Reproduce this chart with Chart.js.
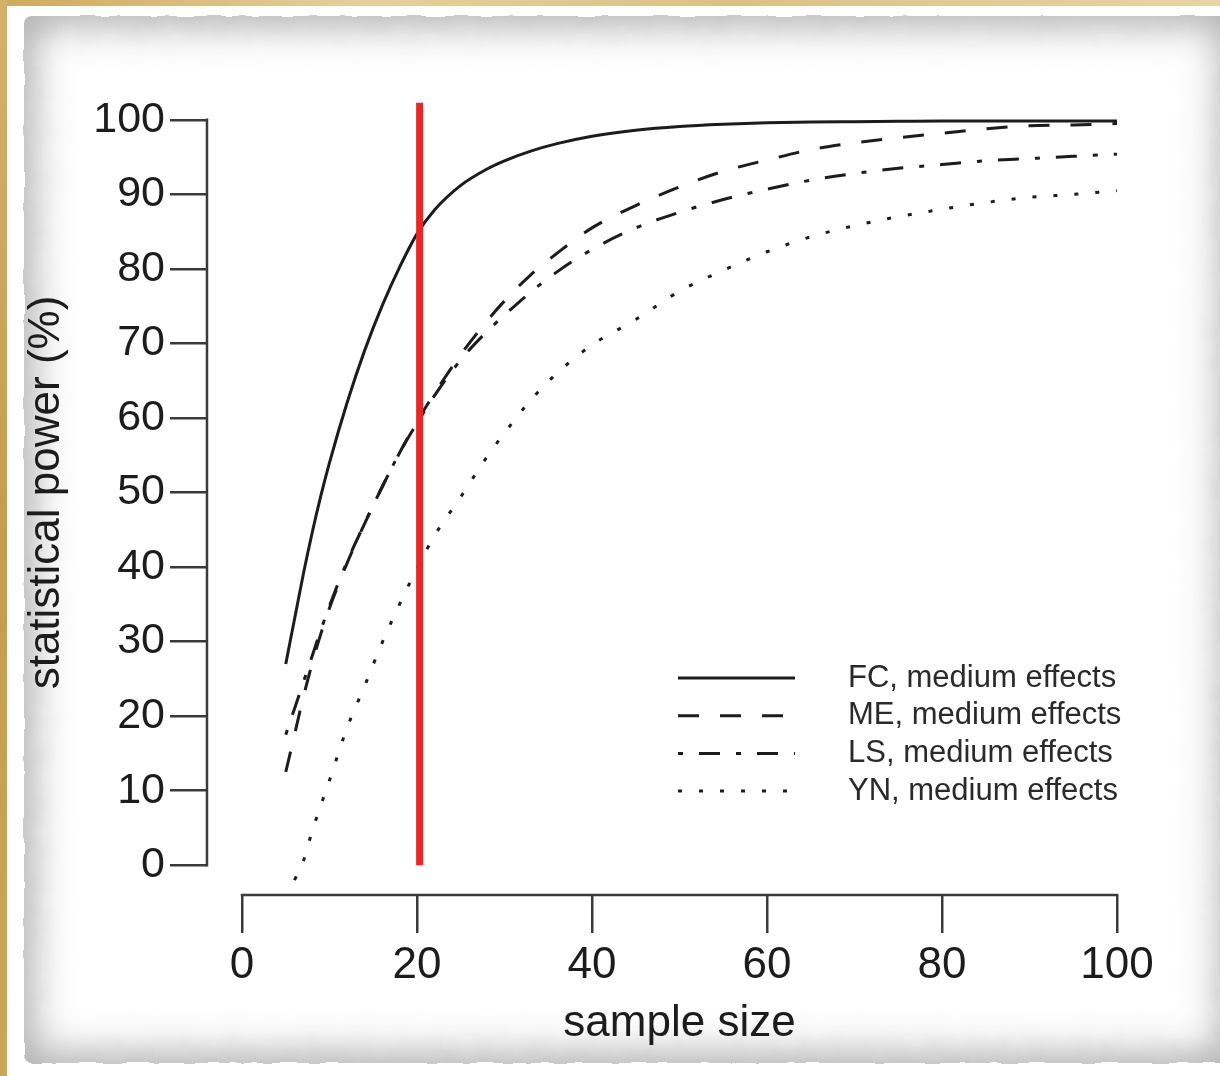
<!DOCTYPE html>
<html>
<head>
<meta charset="utf-8">
<title>Statistical power by sample size</title>
<script src="https://cdn.jsdelivr.net/npm/chart.js@4.4.1/dist/chart.umd.min.js"></script>
<style>
    html, body { margin: 0; padding: 0; }
    body { width: 1220px; height: 1076px; position: relative; overflow: hidden; background: #fff; }
    .gold-top { position: absolute; left: 0; top: 0; width: 1220px; height: 6px;
        background: linear-gradient(90deg, #cfa95e, #e6d09c 30%, #dcc185 60%, #e8d4a4); }
    .gold-left { position: absolute; left: 0; top: 0; width: 7px; height: 1076px;
        background: linear-gradient(180deg, #d4b06a, #c49d52 50%, #caa55c); }
    .paper { position: absolute; left: 24px; top: 16px; width: 1206px; height: 1047px; background: #fff;
        border-radius: 8px; box-shadow: inset 0 0 38px 10px rgba(95, 95, 95, 0.5); filter: url(#rough); }
    #powerChart { position: absolute; left: 0; top: 0; }
</style>
</head>
<body>
<svg width="0" height="0" style="position:absolute">
    <filter id="rough">
        <feTurbulence type="fractalNoise" baseFrequency="0.04" numOctaves="2" result="noise"/>
        <feDisplacementMap in="SourceGraphic" in2="noise" scale="5"/>
    </filter>
</svg>
<div class="gold-top"></div>
<div class="gold-left"></div>
<div class="paper"></div>
<canvas id="powerChart" width="1220" height="1076"></canvas>

<script>
// power (%) at each sample size, one list per method
const sampleSize = [5, 6, 7, 8, 9, 10, 12, 14, 16, 18, 20, 22, 25, 28, 30, 33, 36, 40, 45, 50, 55, 60, 65, 70, 75, 80, 85, 90, 95, 100];
const powerFC = [27, 33, 39, 44.5, 49.5, 54, 62, 69, 75, 80.2, 84.7, 87.9, 91.2, 93.4, 94.5, 95.8, 96.8, 97.8, 98.6, 99.1, 99.4, 99.6, 99.7, 99.75, 99.8, 99.85, 99.85, 99.85, 99.85, 99.85];
const powerME = [12.5, 17.5, 22.5, 27, 31, 34.5, 40.5, 45.8, 50.7, 55.3, 59.5, 63.3, 68.5, 73, 75.7, 79.2, 82.1, 85.5, 88.5, 91, 93.1, 94.6, 96, 96.9, 97.6, 98.2, 98.8, 99.2, 99.3, 99.5];
const powerLS = [17.5, 21, 24.5, 28, 31.5, 34.8, 40.7, 45.8, 50.7, 55.3, 59.3, 63, 67.8, 71.6, 73.8, 76.9, 79.6, 82.6, 85.5, 87.6, 89.3, 90.7, 91.9, 92.8, 93.5, 94, 94.5, 94.8, 95.1, 95.4];
const powerYN = [null, -2, 0.5, 4.5, 8, 11.4, 18.4, 24, 29.8, 35, 39.8, 44.2, 49.4, 54.8, 58, 62.4, 66, 69.8, 73.2, 77, 79.8, 82.3, 84.3, 85.8, 87, 88, 88.9, 89.6, 90, 90.5];
const seriesLabels = ['FC, medium effects', 'ME, medium effects', 'LS, medium effects', 'YN, medium effects'];

const xTicks = [0, 20, 40, 60, 80, 100];
const yTicks = [0, 10, 20, 30, 40, 50, 60, 70, 80, 90, 100];

// vertical marker near n = 20
const markerX = [20.3, 20.3];
const markerY = [0, 102.3];

const ink = '#1c1c1c';
const axisInk = '#3a3a3a';
const fontFamily = '"Liberation Sans", Arial, Helvetica, sans-serif';

const toPoints = (xs, ys) => xs.map((x, i) => ({ x: x, y: ys[i] }));

// R style axes: the axis line only runs between the first and last tick
const detachedAxes = {
    id: 'detachedAxes',
    afterDraw(chart, args, opts) {
        const { ctx, chartArea, scales } = chart;
        const x = scales.x;
        const y = scales.y;
        ctx.save();
        ctx.strokeStyle = opts.color;
        ctx.lineWidth = opts.width;
        ctx.lineCap = 'square';
        ctx.beginPath();
        ctx.moveTo(x.getPixelForValue(xTicks[0]), chartArea.bottom);
        ctx.lineTo(x.getPixelForValue(xTicks[xTicks.length - 1]), chartArea.bottom);
        ctx.moveTo(chartArea.left, y.getPixelForValue(yTicks[0]));
        ctx.lineTo(chartArea.left, y.getPixelForValue(yTicks[yTicks.length - 1]));
        ctx.stroke();
        ctx.restore();
    }
};

// boxless legend inside the plot, line samples on the left
const lineLegend = {
    id: 'lineLegend',
    afterDraw(chart, args, opts) {
        const ctx = chart.ctx;
        let rowY = opts.top;
        chart.data.datasets.forEach(ds => {
            if (!ds.label) return;
            ctx.save();
            ctx.strokeStyle = ds.borderColor;
            ctx.lineWidth = ds.borderWidth;
            ctx.lineCap = 'butt';
            ctx.setLineDash(ds.borderDash || []);
            ctx.beginPath();
            ctx.moveTo(opts.lineStart, rowY);
            ctx.lineTo(opts.lineEnd, rowY);
            ctx.stroke();
            ctx.setLineDash([]);
            ctx.fillStyle = opts.color;
            ctx.font = opts.font;
            ctx.textBaseline = 'middle';
            ctx.textAlign = 'left';
            ctx.fillText(ds.label, opts.textX, rowY);
            ctx.restore();
            rowY += opts.rowHeight;
        });
    }
};

document.addEventListener('DOMContentLoaded', () => {
    const ctx = document.getElementById('powerChart').getContext('2d');

    const lineStyle = (label, values, dash) => ({
        label: label,
        data: toPoints(sampleSize, values),
        borderColor: ink,
        borderWidth: 3,
        borderDash: dash,
        borderCapStyle: 'butt',
        pointRadius: 0,
        fill: false,
        cubicInterpolationMode: 'monotone',
        order: 1
    });

    new Chart(ctx, {
        type: 'line',
        data: {
            datasets: [
                {
                    data: toPoints(markerX, markerY),
                    borderColor: '#ea2727',
                    borderWidth: 7,
                    borderCapStyle: 'butt',
                    pointRadius: 0,
                    fill: false,
                    order: 0
                },
                lineStyle(seriesLabels[0], powerFC, []),
                lineStyle(seriesLabels[1], powerME, [21, 21]),
                lineStyle(seriesLabels[2], powerLS, [5, 16, 21, 16]),
                lineStyle(seriesLabels[3], powerYN, [4, 17])
            ]
        },
        options: {
            responsive: false,
            animation: false,
            devicePixelRatio: 1,
            layout: { padding: { left: 0, top: 90, right: 68, bottom: 0 } },
            scales: {
                x: {
                    type: 'linear',
                    min: -4,
                    max: 104,
                    afterBuildTicks: (axis) => { axis.ticks = xTicks.map(v => ({ value: v })); },
                    afterFit: (axis) => { axis.height = 181; },
                    grid: { display: true, drawOnChartArea: false, drawTicks: true, tickLength: 38, color: axisInk, lineWidth: 2.5 },
                    border: { display: false },
                    ticks: { color: ink, padding: 6, maxRotation: 0, autoSkip: false, font: { family: fontFamily, size: 44 } },
                    title: { display: true, text: 'sample size', color: ink, font: { family: fontFamily, size: 44 }, padding: { top: 0, bottom: 26 } }
                },
                y: {
                    type: 'linear',
                    min: -4,
                    max: 104,
                    afterBuildTicks: (axis) => { axis.ticks = yTicks.map(v => ({ value: v })); },
                    afterFit: (axis) => { axis.width = 207; },
                    grid: { display: true, drawOnChartArea: false, drawTicks: true, tickLength: 37, color: axisInk, lineWidth: 2.5 },
                    border: { display: false },
                    ticks: { color: ink, padding: 5, autoSkip: false, font: { family: fontFamily, size: 43 } },
                    title: { display: true, text: 'statistical power (%)', color: ink, font: { family: fontFamily, size: 44 }, padding: { top: 20, bottom: 0 } }
                }
            },
            plugins: {
                legend: { display: false },
                tooltip: { enabled: false },
                detachedAxes: { color: axisInk, width: 2.5 },
                lineLegend: {
                    top: 678,
                    rowHeight: 37.7,
                    lineStart: 678,
                    lineEnd: 795,
                    textX: 848,
                    color: '#2a2a2a',
                    font: '31px ' + fontFamily
                }
            }
        },
        plugins: [detachedAxes, lineLegend]
    });
});
</script>
</body>
</html>
